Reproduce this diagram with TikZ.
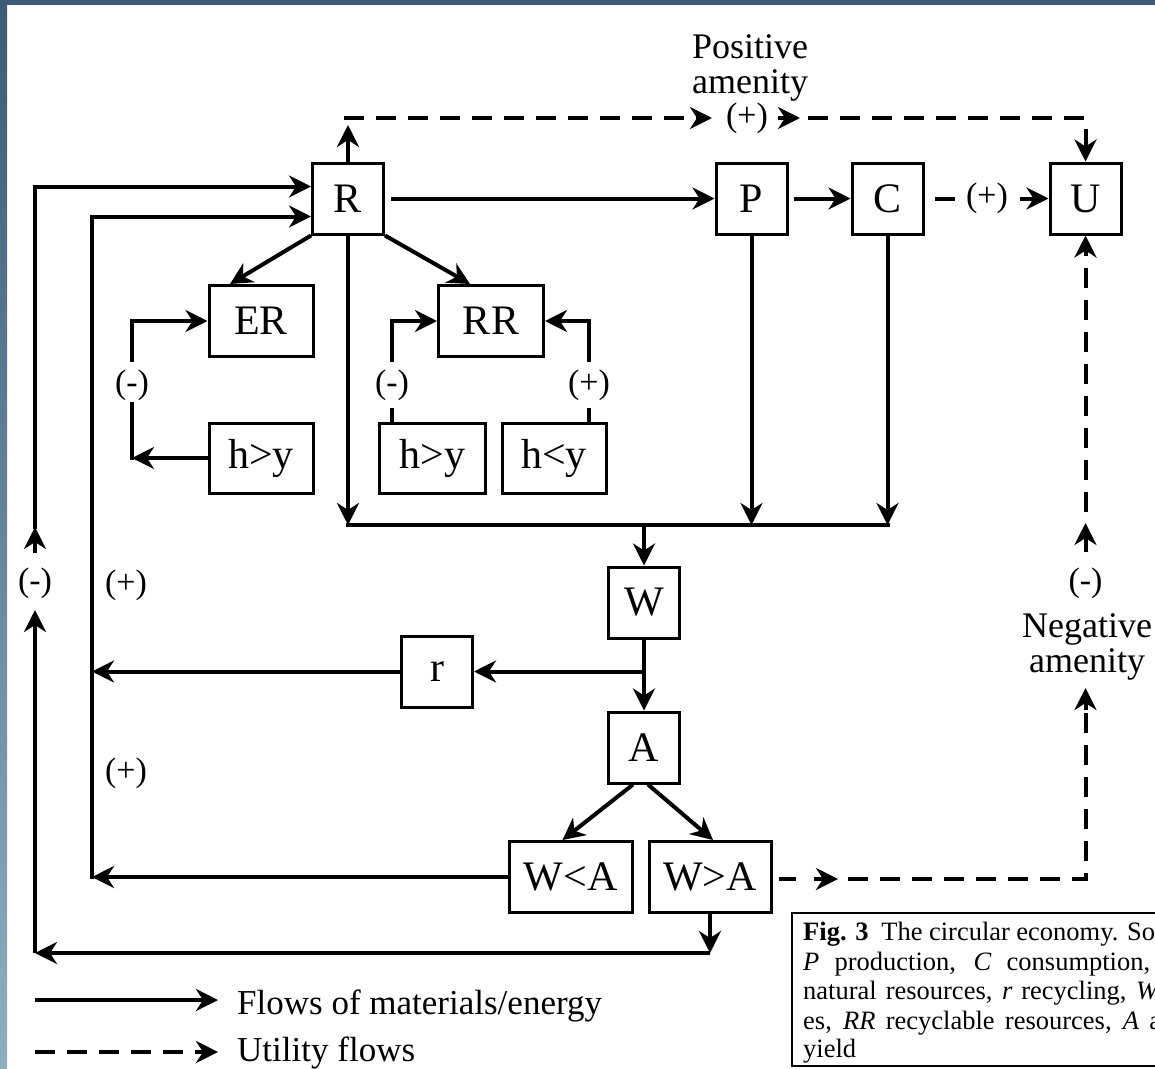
\documentclass[tikz,border=0pt]{standalone}
\usepackage{fontspec}
\setmainfont{Liberation Serif}
\usetikzlibrary{arrows.meta}
\definecolor{frametop}{HTML}{3D5A78}
\definecolor{framebot}{HTML}{8DB0C0}
\begin{document}
\begin{tikzpicture}[x=1pt,y=-1pt,
  box/.style={draw, line width=3pt, inner sep=0pt, minimum width=71pt, minimum height=71pt, font=\fontsize{42}{48}\selectfont},
  lab/.style={inner sep=4pt, font=\fontsize{34}{36}\selectfont},
  ln/.style={line width=4pt},
  flow/.style={ln, -{Stealth[length=22pt,width=22pt,inset=7pt]}},
  util/.style={ln, dash pattern=on 20pt off 12pt},
  utilar/.style={util, -{Stealth[length=22pt,width=22pt,inset=7pt]}},
]
\useasboundingbox (0,0) rectangle (1155,1068);
\clip (0,0) rectangle (1155,1068);
\fill[white] (0,0) rectangle (1155,1068);
\shade[top color=frametop, bottom color=framebot] (0,0) rectangle (7,1068);
\fill[frametop] (0,0) rectangle (1155,4.5);

% boxes
\node[box] (R) at (348,198.5) {R};
\node[box] (P) at (751.5,198.5) {P};
\node[box] (C) at (887.5,198.5) {C};
\node[box] (U) at (1085.5,198.5) {U};
\node[box, minimum width=104pt] (ER) at (261,321) {ER};
\node[box, minimum width=105pt] (RR) at (491,321) {RR};
\node[box, minimum width=104pt, minimum height=70pt] (h1) at (261,458) {h>y};
\node[box, minimum width=106pt, minimum height=70pt] (h2) at (432.5,458) {h>y};
\node[box, minimum width=104pt, minimum height=70pt] (h3) at (554,458) {h<y};
\node[box] (W) at (644,602.5) {W};
\node[box] (r) at (437,671.5) {r};
\node[box] (A) at (644,747.5) {A};
\node[box, minimum width=123pt] (WlA) at (570.5,877) {W<A};
\node[box, minimum width=122pt] (WgA) at (710,877) {W>A};

% labels
\node[lab, align=center, font=\fontsize{36}{35}\selectfont] (pos) at (750,68) {Positive\\amenity};
\node[lab, align=center, font=\fontsize{36}{35}\selectfont] (neg) at (1087,647) {Negative\\amenity};
\node[lab] (pa) at (747,118) {(+)};
\node[lab] (cup) at (987,198.5) {(+)};
\node[lab] (nm) at (1085.5,583) {(-)};
\node[lab] (m1) at (35,583) {(-)};
\node[lab] (p1) at (126,585) {(+)};
\node[lab] (p2) at (126,773) {(+)};
\node[lab] (em) at (132,385) {(-)};
\node[lab] (gm) at (392,385) {(-)};
\node[lab] (gp) at (589,385) {(+)};

% main flows
\draw[flow, shorten <=6pt] (R) -- (P);
\draw[flow, shorten <=5pt] (P) -- (C);
\coordinate (cu1) at (935,198.5);
\coordinate (cu2) at (955,198.5);
\coordinate (cu3) at (1020,198.5);
\draw[ln] (cu1) -- (cu2);
\draw[flow] (cu3) -- (U.west);

\draw[flow] (R.south west) -- ([xshift=-31pt]ER.north);
\draw[flow] (R.south east) -- ([xshift=-21pt]RR.north);

\coordinate (bL) at (348,525);
\coordinate (bR) at (888,525);
\coordinate (bW) at (644,525);
\draw[flow] (R.south) -- (bL);
\draw[flow] (P.south) -- (P.south |- bL);
\draw[flow] (C.south) -- (C.south |- bL);
\draw[ln, line cap=rect] (bL) -- (bR);
\draw[flow] (bW) -- (W.north);
\draw[flow] (W) -- (A);
\draw[flow] (W.south |- r.east) -- (r.east);

% inner loop (+)
\coordinate (L2top) at (92,216.5);
\coordinate (L2bot) at (92,879);
\draw[flow] (r.west) -- (r.west -| L2top);
\draw[flow] (WlA.west) -- (WlA.west -| L2top);
\draw[flow] (L2bot) -- (L2top) -- ([yshift=-18pt]R.west);

% outer loop (-)
\coordinate (Wgbot) at (710,953);
\coordinate (L1bot) at (35,953);
\coordinate (m1lo) at (35,610);
\coordinate (m1a) at (35,553);
\coordinate (m1b) at (35,527);
\coordinate (L1top) at (35,186.5);
\draw[flow] (WgA.south) -- (Wgbot);
\draw[flow] (Wgbot) -- (L1bot);
\draw[flow] (L1bot) -- (m1lo);
\draw[flow] (m1a) -- (m1b);
\draw[flow] ([yshift=-2pt]m1b) -- (L1top) -- ([yshift=12pt]R.west);

% A branches
\draw[flow] ([xshift=-11pt]A.south) -- ([xshift=-8pt]WlA.north);
\draw[flow] ([xshift=4pt]A.south) -- ([xshift=3pt]WgA.north);

% ER / RR loops
\coordinate (e1) at (132,458);
\coordinate (e2) at (132,402);
\coordinate (e3) at (132,362);
\draw[flow] (h1.west) -- (e1);
\draw[ln] ([yshift=-2pt]e1) -- (e2);
\draw[flow] (e3) |- (ER.west);
\coordinate (g1) at (392,423);
\coordinate (g2) at (392,408);
\coordinate (g3) at (392,362);
\draw[ln] (g1) -- (g2);
\draw[flow] (g3) |- (RR.west);
\coordinate (q1) at (589,423);
\coordinate (q2) at (589,408);
\coordinate (q3) at (589,362);
\draw[ln] (q1) -- (q2);
\draw[flow] (q3) |- (RR.east);

% utility flows top
\coordinate (Rt) at (344,118);
\coordinate (t1) at (712,118);
\coordinate (t2) at (778,118);
\coordinate (t3) at (800,118);
\coordinate (t4) at (808,118);
\coordinate (Utr) at (1085.5,118);
\draw[flow] (R.north) -- (348,125);
\draw[utilar] (Rt) -- (t1);
\draw[flow] (t2) -- (t3);
\draw[utilar] (t4) -- (Utr) -- (U.north);

% utility flows right
\coordinate (n1) at (779,879);
\coordinate (n2) at (796,879);
\coordinate (n3) at (814,879);
\coordinate (n4) at (838,879);
\coordinate (n5) at (848,879);
\coordinate (ncor) at (1085.5,879);
\coordinate (n6) at (1085.5,712);
\coordinate (n7) at (1085.5,688);
\coordinate (n8) at (1085.5,552);
\coordinate (n9) at (1085.5,523);
\coordinate (n10) at (1085.5,512);
\draw[ln] (n1) -- (n2);
\draw[flow] (n3) -- (n4);
\draw[util] (n5) -- (ncor) -- (n6);
\draw[flow] ([yshift=2pt]n6) -- (n7);
\draw[flow] (n8) -- (n9);
\draw[utilar] (n10) -- (U.south);

% legend
\coordinate (lga) at (35,1000);
\coordinate (lgb) at (218,1000);
\coordinate (lgc) at (35,1052);
\coordinate (lgd) at (218,1052);
\draw[flow] (lga) -- (lgb);
\draw[utilar] (lgc) -- (lgd);
\node[anchor=base west, inner sep=0pt, font=\fontsize{35}{40}\selectfont] (lt1) at (237,1014) {Flows of materials/energy};
\node[anchor=base west, inner sep=0pt, font=\fontsize{35}{40}\selectfont] (lt2) at (237,1061) {Utility flows};

% caption
\draw[line width=2pt] (792,913) rectangle (1175,1066);
\begin{scope}[every node/.style={anchor=base west, inner sep=0pt, font=\fontsize{26.5}{29}\selectfont}]
\node (c1) at (803,940) {\makebox[352pt][s]{\textbf{Fig. 3}\ \ The circular economy. So}};
\node (c2) at (803,970) {\makebox[347pt][s]{\textit{P} production, \textit{C} consumption,}};
\node (c3) at (803,999) {\makebox[357pt][s]{natural resources, \textit{r} recycling, \textit{W}}};
\node (c4) at (803,1029) {\makebox[358pt][s]{es, \textit{RR} recyclable resources, \textit{A} a}};
\node (c5) at (803,1057) {yield};
\end{scope}
\end{tikzpicture}
\end{document}
